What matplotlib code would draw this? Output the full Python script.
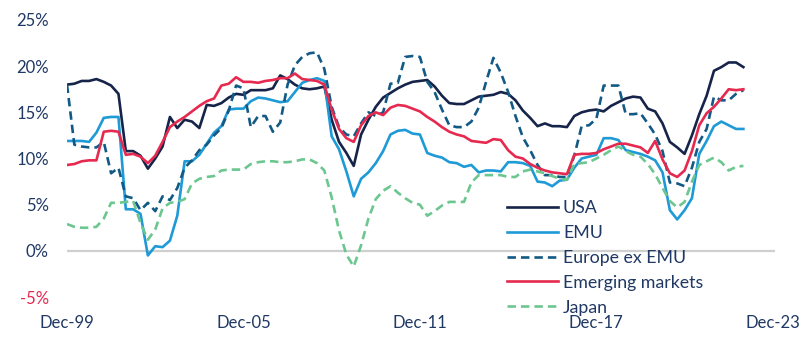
import matplotlib
matplotlib.use("Agg")
import matplotlib.pyplot as plt
import numpy as np

# quarterly returns on equity (%), Dec-99 .. Dec-22
usa = [18.0, 18.1, 18.4, 18.4, 18.6, 18.3, 17.9, 17.0, 10.8, 10.8,
       10.3, 8.9, 10.0, 11.3, 14.5, 13.3, 14.2, 14.0, 13.3, 15.8,
       15.7, 16.0, 16.6, 17.0, 16.9, 17.4, 17.4, 17.4, 17.6, 19.0,
       18.6, 18.0, 17.6, 17.5, 17.6, 17.8, 14.2, 11.8, 10.6, 9.2,
       12.6, 14.2, 15.6, 16.6, 17.1, 17.6, 18.0, 18.3, 18.4, 18.5,
       17.8, 16.8, 16.0, 15.9, 15.9, 16.3, 16.7, 16.8, 16.9, 17.2,
       17.0, 16.3, 15.2, 14.4, 13.5, 13.8, 13.5, 13.5, 13.4, 14.6,
       15.0, 15.2, 15.3, 15.1, 15.7, 16.1, 16.5, 16.7, 16.6, 15.4,
       15.1, 13.8, 11.8, 11.2, 10.5, 12.5, 14.8, 16.8, 19.5, 19.9,
       20.4, 20.4, 19.9]

emu = [11.9, 11.9, 11.9, 11.8, 12.8, 14.4, 14.5, 14.5, 4.5, 4.5,
       4.0, -0.5, 0.5, 0.4, 1.1, 3.8, 9.7, 9.7, 10.4, 11.6,
       12.8, 13.5, 15.3, 15.4, 15.4, 16.2, 16.6, 16.5, 16.3, 16.1,
       16.2, 17.2, 18.2, 18.5, 18.7, 18.4, 12.4, 11.0, 8.6, 5.9,
       7.8, 8.5, 9.5, 10.8, 12.6, 13.0, 13.1, 12.7, 12.6, 10.6,
       10.3, 10.1, 9.6, 9.5, 9.1, 9.3, 8.5, 8.7, 8.7, 8.6,
       9.6, 9.6, 9.5, 9.2, 7.5, 7.4, 7.0, 7.6, 7.7, 9.0,
       10.0, 10.2, 10.4, 12.2, 12.2, 12.0, 10.9, 10.7, 10.5, 10.2,
       9.8, 8.5, 4.4, 3.4, 4.4, 5.7, 10.5, 11.9, 13.5, 14.0,
       13.6, 13.2, 13.2]

europe_ex_emu = [18.0, 11.5, 11.3, 11.2, 11.2, 11.8, 8.4, 9.0, 5.9, 5.7,
                 4.4, 5.2, 4.3, 5.9, 5.5, 6.8, 9.0, 9.8, 10.9, 11.5,
                 12.5, 13.3, 15.2, 17.9, 17.6, 13.4, 14.6, 14.6, 12.9, 13.9,
                 18.0, 20.1, 21.0, 21.4, 21.5, 19.7, 15.6, 13.4, 12.6, 12.4,
                 13.8, 15.0, 14.6, 15.0, 18.1, 18.2, 21.0, 21.1, 21.0, 18.3,
                 17.2, 15.3, 13.6, 13.4, 13.4, 14.0, 15.5, 18.3, 20.9, 19.3,
                 17.2, 14.6, 12.3, 10.9, 9.3, 8.2, 8.2, 8.0, 8.0, 10.3,
                 13.5, 13.6, 14.3, 17.9, 17.9, 17.9, 14.8, 14.8, 14.9, 13.8,
                 12.6, 10.8, 7.4, 7.3, 7.0, 9.0, 11.8, 13.2, 16.7, 16.3,
                 16.3, 17.0, 17.4]

emerging = [9.3, 9.4, 9.7, 9.8, 9.8, 12.9, 13.0, 12.9, 10.4, 10.5,
            10.2, 9.5, 10.3, 11.8, 13.4, 14.0, 14.5, 15.1, 15.7, 16.2,
            16.5, 17.9, 18.1, 18.8, 18.3, 18.3, 18.2, 18.4, 18.5, 18.7,
            18.7, 19.2, 18.6, 18.5, 18.4, 18.0, 15.3, 13.2, 12.2, 11.8,
            13.6, 14.6, 15.0, 14.7, 15.5, 15.8, 15.7, 15.4, 15.1, 14.5,
            14.0, 13.4, 12.9, 12.6, 12.4, 11.9, 11.8, 11.7, 12.1, 12.0,
            10.9, 10.2, 10.0, 9.4, 9.0, 8.7, 8.5, 8.4, 8.3, 10.4,
            10.5, 10.5, 10.6, 11.0, 11.3, 11.6, 11.6, 11.4, 11.2, 10.6,
            11.9, 9.9, 8.4, 8.0, 8.7, 10.8, 13.6, 14.9, 15.6, 16.5,
            17.5, 17.4, 17.5]

japan = [2.9, 2.6, 2.5, 2.5, 2.6, 3.5, 5.2, 5.2, 5.3, 5.4,
         3.0, 1.2, 2.3, 4.6, 5.2, 5.3, 5.6, 7.3, 7.8, 8.0,
         8.1, 8.7, 8.8, 8.8, 8.8, 9.4, 9.6, 9.7, 9.7, 9.6,
         9.6, 9.7, 9.9, 9.9, 9.5, 8.7, 5.8, 2.2, -0.4, -1.7,
         0.6, 3.5, 5.6, 6.5, 7.0, 6.3, 5.7, 5.2, 5.0, 3.8,
         4.3, 4.9, 5.3, 5.3, 5.3, 7.4, 8.2, 8.2, 8.2, 8.2,
         8.0, 8.0, 8.6, 8.8, 8.6, 8.4, 8.1, 7.8, 7.7, 9.4,
         9.5, 9.6, 10.0, 10.4, 10.9, 11.3, 10.8, 10.4, 10.2, 9.4,
         8.3, 6.8, 5.4, 4.7, 5.3, 7.5, 9.3, 9.7, 10.1, 9.6,
         8.7, 9.1, 9.2]

tick_labels = ["Dec-99", "Dec-05", "Dec-11", "Dec-17", "Dec-23"]
y_ticks = [-5, 0, 5, 10, 15, 20, 25]

navy = "#16244a"
text_col = "#1f3864"
red = "#e6294f"

plt.rcParams['font.family'] = ['Lato', 'DejaVu Sans']

fig = plt.figure(figsize=(8.12, 3.39), dpi=100)
ax = fig.add_axes([67 / 812, 1 - 297 / 339, (775 - 67) / 812, (297 - 20) / 339])

x = np.arange(len(usa))
ax.axhline(0, color="#cfcfcf", lw=1.6, zorder=1)

lw = 1.9
ax.plot(x, usa, color=navy, lw=lw, label="USA")
ax.plot(x, emu, color="#1e9ad6", lw=lw, label="EMU")
ax.plot(x, europe_ex_emu, color="#125a85", lw=lw, ls=(0, (3.2, 1.9)), label="Europe ex EMU")
ax.plot(x, emerging, color=red, lw=lw, label="Emerging markets")
ax.plot(x, japan, color="#6cc690", lw=lw, ls=(0, (3.2, 1.9)), label="Japan")

ax.set_xlim(0, 96.3)
ax.set_ylim(-5, 25)
ax.set_xticks([0, 24, 48, 72, 96])
ax.set_xticklabels(tick_labels)
ax.set_yticks(y_ticks)
ax.set_yticklabels([f"{v}%" for v in y_ticks])
ax.tick_params(length=0, labelsize=12, colors=text_col)
ax.tick_params(axis="y", pad=13)
ax.tick_params(axis="x", pad=13)
ax.get_yticklabels()[0].set_color(red)
for s in ax.spines.values():
    s.set_visible(False)

leg = ax.legend(loc="upper left", bbox_to_anchor=(507 / 812, 1 - 200 / 339),
                bbox_transform=fig.transFigure, frameon=False, fontsize=12.8,
                handlelength=2.85, handletextpad=0.3, labelspacing=0.5,
                borderpad=0, borderaxespad=0)
for t in leg.get_texts():
    t.set_color(text_col)

fig.savefig("out.png", dpi=100)
